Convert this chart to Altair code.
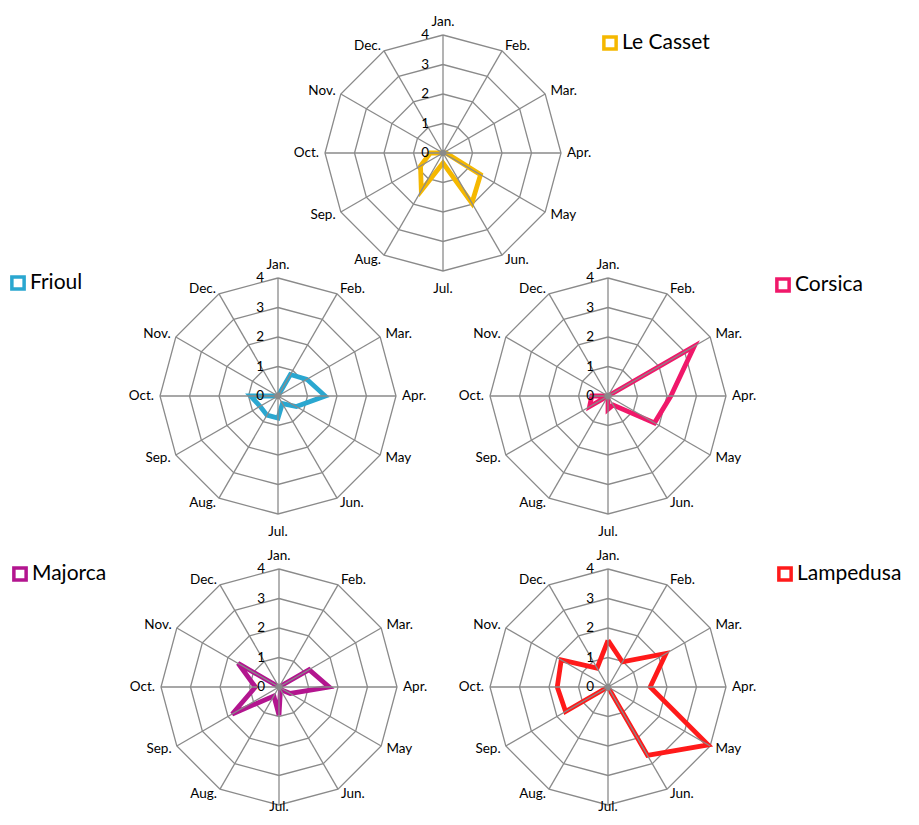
import altair as alt
import numpy as np
import pandas as pd

# ---------------- data ----------------
months = ["Jan.", "Feb.", "Mar.", "Apr.", "May", "Jun.", "Jul.", "Aug.", "Sep.", "Oct.", "Nov.", "Dec."]
sites = ["Le Casset", "Frioul", "Corsica", "Majorca", "Lampedusa"]
le_casset = [0, 0, 0, 0.1, 1.47, 1.96, 0.34, 1.47, 0.88, 0.43, 0, 0]
frioul = [0, 0.84, 1.13, 1.6, 0.72, 0.3, 0.75, 0.75, 0.7, 0.93, 0, 0]
corsica = [0, 0, 3.38, 2.13, 1.82, 0.35, 0.45, 0, 0.72, 0.55, 0, 0]
majorca = [0, 0, 1.18, 1.7, 0.44, 0.1, 0.95, 0.35, 1.83, 0.8, 1.6, 0]
lampedusa = [1.58, 0.98, 2.27, 1.43, 3.92, 2.68, 0, 0, 1.66, 1.72, 1.83, 0.74]
tick_values = [0, 1, 2, 3, 4]
series = [le_casset, frioul, corsica, majorca, lampedusa]

# ---------------- layout / style ----------------
colors = ["#F5B800", "#2AA7D0", "#F0186A", "#B3158F", "#FF1A1A"]
centers = {"Le Casset": (443, 153), "Frioul": (278, 396), "Corsica": (608, 396),
           "Majorca": (279, 687), "Lampedusa": (608, 687)}
legend_pos = {"Le Casset": (610, 43), "Frioul": (18, 283), "Corsica": (783, 285),
              "Majorca": (20, 574), "Lampedusa": (785, 574)}
R = 118.0
VMAX = 4.0
FONT = "Lato"
GRID = "#8A8A8A"
W, H = 903, 809
LABEL_Y_MAX = 800  # keep the lowest month labels inside the page

ang = np.arange(12) * 2 * np.pi / 12


def pt(site, val, i, extra=0.0):
    cx, cy = centers[site]
    r = val / VMAX * R + extra
    return cx + r * np.sin(ang[i]), cy - r * np.cos(ang[i])


rings, spokes, lines, labels, ticks, legend = [], [], [], [], [], []
for s, vals in zip(sites, series):
    cx, cy = centers[s]
    for lev in tick_values[1:]:
        for k in range(13):
            x, y = pt(s, lev, k % 12)
            rings.append({"site": s, "ring": f"{s}-{lev}", "o": k, "x": x, "y": y})
    for i in range(12):
        x, y = pt(s, VMAX, i)
        spokes.append({"site": s, "x": cx, "y": cy, "x2": x, "y2": y})
        sn = np.sin(ang[i])
        if abs(sn) < 0.1:
            grp = "top" if np.cos(ang[i]) > 0 else "bottom"
        else:
            grp = "left" if sn > 0 else "right"
        lx, ly = pt(s, VMAX, i, extra=11 if grp == "bottom" else 6)
        if grp == "bottom":
            ly = min(ly, LABEL_Y_MAX)
        labels.append({"site": s, "text": months[i], "x": lx, "y": ly, "grp": grp})
    for k in range(13):
        x, y = pt(s, vals[k % 12], k % 12)
        lines.append({"site": s, "o": k, "month": months[k % 12], "value": vals[k % 12], "x": x, "y": y})
    for t in tick_values:
        ticks.append({"site": s, "text": str(t), "x": cx - 14, "y": cy - t / VMAX * R})
    mx, my = legend_pos[s]
    legend.append({"site": s, "x": mx, "y": my, "tx": mx + 12})

rings = pd.DataFrame(rings)
spokes = pd.DataFrame(spokes)
lines = pd.DataFrame(lines)
labels = pd.DataFrame(labels)
ticks = pd.DataFrame(ticks)
legend = pd.DataFrame(legend)

xs = alt.Scale(domain=[8, 8 + W], nice=False, zero=False)
ys = alt.Scale(domain=[8 + H, 8], nice=False, zero=False)
X = lambda f="x": alt.X(f"{f}:Q", scale=xs, axis=None)
Y = lambda f="y": alt.Y(f"{f}:Q", scale=ys, axis=None)
col = alt.Color("site:N", scale=alt.Scale(domain=sites, range=colors), legend=None)

ring_layer = alt.Chart(rings).mark_line(color=GRID, strokeWidth=1.3).encode(
    x=X(), y=Y(), detail="ring:N", order="o:Q")

data_layer = alt.Chart(lines).mark_line(strokeWidth=4.8, strokeJoin="miter").encode(
    x=X(), y=Y(), color=col, detail="site:N", order="o:Q",
    tooltip=["site:N", "month:N", "value:Q"])

spoke_layer = alt.Chart(spokes).mark_rule(color=GRID, strokeWidth=1.3).encode(
    x=X(), y=Y(), x2="x2:Q", y2="y2:Q")

center_layer = alt.Chart(spokes).transform_aggregate(
    x="mean(x)", y="mean(y)", groupby=["site"]).mark_point(
    filled=True, color=GRID, size=40, opacity=1).encode(x=X(), y=Y())

lab_cfg = {
    "left": dict(align="left", baseline="middle"),
    "right": dict(align="right", baseline="middle"),
    "top": dict(align="center", baseline="bottom"),
    "bottom": dict(align="center", baseline="top"),
}
label_layers = []
for g, kw in lab_cfg.items():
    label_layers.append(
        alt.Chart(labels).transform_filter(alt.datum.grp == g).mark_text(
            font=FONT, fontSize=13.5, color="#000000", **kw).encode(
            x=X(), y=Y(), text="text:N"))

tick_layer = alt.Chart(ticks).mark_text(
    font=FONT, fontSize=13.5, color="#000000", align="right", baseline="middle").encode(
    x=X(), y=Y(), text="text:N")

leg_marker = alt.Chart(legend).mark_point(
    shape="square", filled=False, strokeWidth=3.5, size=150, opacity=1).encode(
    x=X(), y=Y(), color=col)

leg_text = alt.Chart(legend).mark_text(
    font=FONT, fontSize=21, color="#000000", align="left", baseline="middle").encode(
    x=X("tx"), y=Y(), text="site:N")

chart = alt.layer(
    ring_layer, data_layer, spoke_layer, center_layer, *label_layers, tick_layer, leg_marker, leg_text
).properties(
    width=W, height=H, padding=0, autosize=alt.AutoSizeParams(type="none")
).configure_view(stroke=None)

chart.save("out.html", embed_options={"renderer": "svg", "actions": False})
